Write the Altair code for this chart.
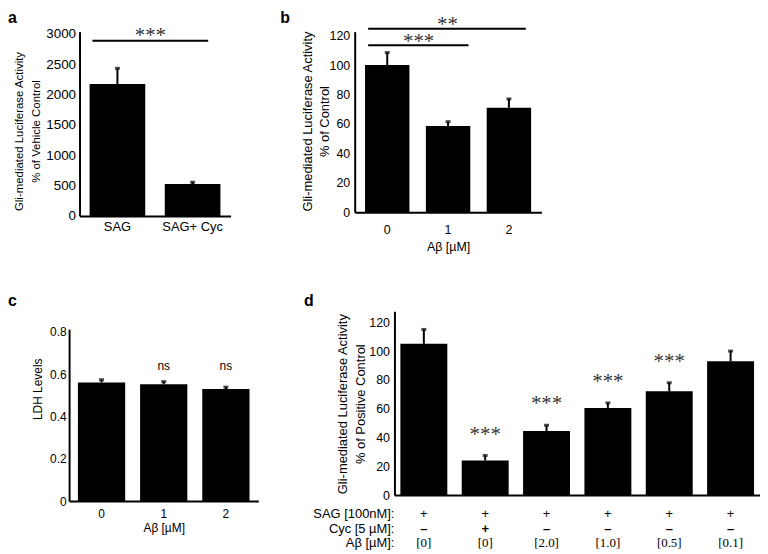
import altair as alt
import pandas as pd

# ---------------- data ----------------
# panel a
a_groups = ["SAG", "SAG+ Cyc"]
a_means = [2170, 525]
a_errs = [2430, 555]
a_yticks = [0, 500, 1000, 1500, 2000, 2500, 3000]

# panel b
b_doses = ["0", "1", "2"]
b_means = [100, 58.5, 71]
b_errs = [108.5, 61.5, 77]
b_yticks = [0, 20, 40, 60, 80, 100, 120]

# panel c
c_doses = ["0", "1", "2"]
c_means = [0.561, 0.553, 0.530]
c_errs = [0.574, 0.565, 0.539]
c_marks = ["", "ns", "ns"]
c_yticks = [0, 0.2, 0.4, 0.6, 0.8]

# panel d
d_ids = ["1", "2", "3", "4", "5", "6"]
d_means = [105, 24, 44.5, 60.5, 72, 93]
d_errs = [115, 27.5, 48.5, 64, 78, 100]
d_stars = ["", "***", "***", "***", "***", ""]
d_sag = ["+", "+", "+", "+", "+", "+"]
d_cyc = ["–", "+", "–", "–", "–", "–"]
d_abeta = ["[0]", "[0]", "[2.0]", "[1.0]", "[0.5]", "[0.1]"]
d_rowlabels = ["SAG [100nM]:", "Cyc [5 µM]:", "Aβ [µM]:"]
d_yticks = [0, 20, 40, 60, 80, 100, 120]

FONT = "Liberation Sans"
SERIF = "Liberation Serif"


def axis(**kw):
    base = dict(domainColor="black", domainWidth=2, ticks=False, grid=False,
                labelColor="black", labelFont=FONT, labelFontSize=12,
                titleColor="black", titleFont=FONT, titleFontSize=12,
                titleFontWeight="normal", titleLineHeight=17)
    base.update(kw)
    return alt.Axis(**base)


def letter(ch, x, y):
    return alt.Chart(alt.Data(values=[{"t": ch}])).mark_text(
        font=FONT, fontSize=16, fontWeight="bold", align="left", baseline="alphabetic",
        color="black").encode(x=alt.value(x), y=alt.value(y), text="t:N")


def bars_layers(df, X, Y):
    bars = alt.Chart(df).mark_bar(color="black").encode(x=X("g"), y=Y("m"))
    err = alt.Chart(df).mark_rule(color="black", strokeWidth=2).encode(
        x=X("g"), y=Y("m"), y2="e:Q")
    cap = alt.Chart(df).mark_tick(color="black", thickness=3, size=5).encode(
        x=X("g"), y=Y("e"))
    return [bars, err, cap]


# ---------------- panel a ----------------
dfa = pd.DataFrame({"g": a_groups, "m": a_means, "e": a_errs})
xa_s = alt.Scale(domain=a_groups, paddingInner=0.26, paddingOuter=0.134)
ya_s = alt.Scale(domain=[0, 3033], nice=False)
xa_ax = axis(title=None, labelAngle=0, labelPadding=5, labelFontSize=13)
ya_ax = axis(title=["Gli-mediated Luciferase Activity", "% of Vehicle Control"],
             values=a_yticks, format="d", labelPadding=4, labelFontSize=13.5,
             titleFontSize=11.5, titleLineHeight=16.7, titleBaseline="middle",
             titleX=-60, titleY=100)


def XA(f, **kw):
    return alt.X(f + ":N", scale=xa_s, axis=xa_ax, **kw)


def YA(f):
    return alt.Y(f + ":Q", scale=ya_s, axis=ya_ax)


sig_a = pd.DataFrame({"s": ["SAG"], "t": ["SAG+ Cyc"], "y": [2885], "ys": [3033], "lab": ["***"]})
a_rule = alt.Chart(sig_a).mark_rule(color="black", strokeWidth=2).encode(
    x=XA("s", bandPosition=0.05), x2=alt.X2("t:N", bandPosition=0.78), y=YA("y"))
a_star = alt.Chart(sig_a).mark_text(font=SERIF, fontSize=21, color="#333",
                                    baseline="alphabetic", dy=10, dx=-14.5).encode(
    x=XA("t", bandPosition=0), y=YA("ys"), text="lab:N")
panel_a = alt.layer(*bars_layers(dfa, XA, YA), a_rule, a_star,
                    letter("a", -72, -9)).properties(width=152, height=185.5)

# ---------------- panel b ----------------
# plot area is shifted: the x range starts 40px left of the cell origin
dfb = pd.DataFrame({"g": b_doses, "m": b_means, "e": b_errs})
xb_s = alt.Scale(domain=b_doses, paddingInner=0.27, paddingOuter=0.17, range=[-40, 148])
yb_s = alt.Scale(domain=[0, 122.7], nice=False)
xb_ax = axis(title="Aβ [µM]", labelAngle=0, labelPadding=11, titlePadding=5,
             labelFontSize=12.5, titleFontSize=12.5)
yb_ax = axis(title=["Gli-mediated Luciferase Activity", "% of  Control"],
             values=b_yticks, labelPadding=5, offset=40, labelFontSize=12.5,
             titleFontSize=13, titleLineHeight=17.4, titleBaseline="middle",
             titleX=-47.7, titleY=90)


def XB(f, **kw):
    return alt.X(f + ":N", scale=xb_s, axis=xb_ax, **kw)


def YB(f):
    return alt.Y(f + ":Q", scale=yb_s, axis=yb_ax)


b_layers = bars_layers(dfb, XB, YB)
sig_b = [("1", 113.4, 118.0, "***", 0.96, 50.8), ("2", 124.7, 129.8, "**", 0.88, 79.8)]
for end, yl, ys, lab, bp, dxs in sig_b:
    d = pd.DataFrame({"s": ["0"], "t": [end], "y": [yl], "ys": [ys], "lab": [lab]})
    b_layers.append(alt.Chart(d).mark_rule(color="black", strokeWidth=2).encode(
        x=XB("s", bandPosition=0.07), x2=alt.X2("t:N", bandPosition=bp), y=YB("y")))
    b_layers.append(alt.Chart(d).mark_text(font=SERIF, fontSize=21, color="#333",
                                           baseline="alphabetic", dy=10, dx=dxs).encode(
        x=XB("s", bandPosition=0.07), y=YB("ys"), text="lab:N"))
panel_b = alt.layer(*b_layers, letter("b", -115, -9)).properties(width=148, height=181.7)

# ---------------- panel c ----------------
dfc = pd.DataFrame({"g": c_doses, "m": c_means, "e": c_errs, "lab": c_marks})
dfc["ny"] = 0.641
xc_s = alt.Scale(domain=c_doses, paddingInner=0.24, paddingOuter=0.142, range=[-10.5, 180])
yc_s = alt.Scale(domain=[0, 0.813], nice=False, range=[191, 18])
xc_ax = axis(title="Aβ [µM]", labelAngle=0, labelPadding=8, titlePadding=3)
yc_ax = axis(title="LDH Levels", values=c_yticks, format="~g", labelPadding=3,
             offset=10.5, titleBaseline="middle", titleX=-31.8, titleY=78)


def XC(f, **kw):
    return alt.X(f + ":N", scale=xc_s, axis=xc_ax, **kw)


def YC(f):
    return alt.Y(f + ":Q", scale=yc_s, axis=yc_ax)


c_ns = alt.Chart(dfc).mark_text(font=FONT, fontSize=12, color="black", baseline="middle").encode(
    x=XC("g"), y=YC("ny"), text="lab:N")
panel_c = alt.layer(*bars_layers(dfc, XC, YC), c_ns,
                    letter("c", -72, -5)).properties(width=192, height=191)

# ---------------- panel d ----------------
dfd = pd.DataFrame({"g": d_ids, "m": d_means, "e": d_errs, "star": d_stars,
                    "sag": d_sag, "cyc": d_cyc, "ab": d_abeta})
xd_s = alt.Scale(domain=d_ids, paddingInner=0.235, paddingOuter=0.097)
yd_s = alt.Scale(domain=[0, 127.6], nice=False)
xd_ax = axis(title=None, labels=False)
yd_ax = axis(title=["Gli-mediated Luciferase Activity", "% of  Positive Control"],
             values=d_yticks, labelPadding=5, labelFontSize=12.5,
             titleFontSize=13, titleLineHeight=18.3, titleBaseline="middle",
             titleX=-52, titleY=93)


def XD(f, **kw):
    return alt.X(f + ":N", scale=xd_s, axis=xd_ax, **kw)


def YD(f):
    return alt.Y(f + ":Q", scale=yd_s, axis=yd_ax)


d_layers = bars_layers(dfd, XD, YD)
d_layers.append(alt.Chart(dfd).mark_text(font=SERIF, fontSize=21, color="#333",
                                         baseline="alphabetic", dy=-15).encode(
    x=XD("g"), y=YD("e"), text="star:N"))
row_y = [204, 219, 233]
for col, yy, fnt, wt in [("sag", row_y[0], FONT, "normal"), ("cyc", row_y[1], FONT, "bold"),
                         ("ab", row_y[2], SERIF, "normal")]:
    d_layers.append(alt.Chart(dfd).mark_text(font=fnt, fontSize=13, fontWeight=wt, color="black",
                                             baseline="middle").encode(
        x=XD("g"), y=alt.value(yy), text=col + ":N"))
for lab, yy in zip(d_rowlabels, row_y):
    d_layers.append(alt.Chart(alt.Data(values=[{"t": lab}])).mark_text(
        font=FONT, fontSize=13, color="black", align="right", baseline="middle").encode(
        x=alt.value(0), y=alt.value(yy), text="t:N"))
panel_d = alt.layer(*d_layers, letter("d", -91, -5)).properties(width=368, height=185)

chart = alt.concat(panel_a, panel_b, panel_c, panel_d, columns=2,
                   spacing={"row": 95.5, "column": 125}, bounds="flush",
                   align="none").properties(padding=0).configure_view(stroke=None)

chart.save("out.html", embed_options={"renderer": "svg", "actions": False})
